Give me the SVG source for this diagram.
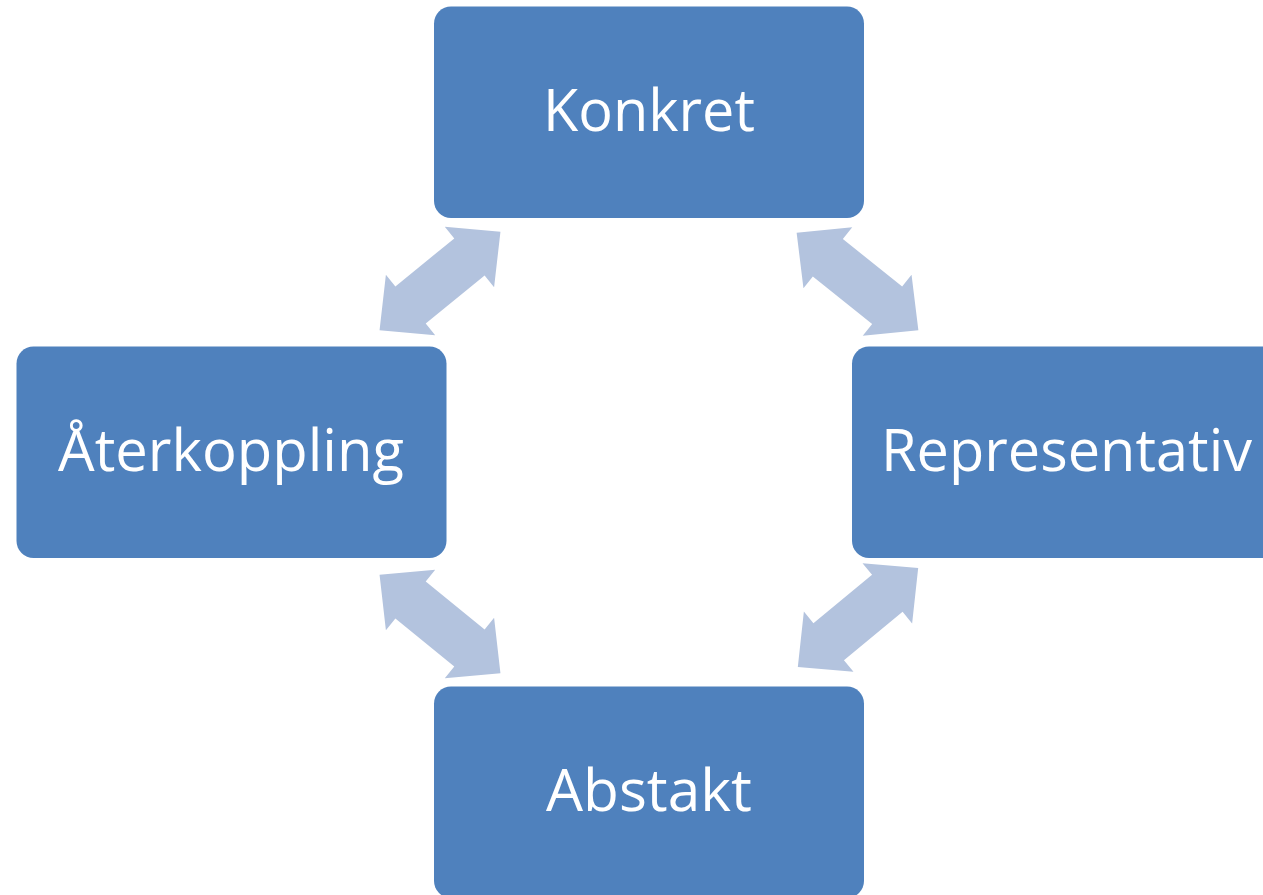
<svg xmlns="http://www.w3.org/2000/svg" width="1263" height="895" viewBox="0 0 1263 895">
  <defs>
    <style>
      .box { fill: #4F81BD; }
      .lbl { fill: #FFFFFF; font-family: "Open Sans", "Noto Sans", "Liberation Sans", sans-serif; font-size: 59px; text-anchor: middle; }
      .arr { fill: #B3C3DE; }
    </style>
    <polygon id="dblarrow" points="78,0 38,-39 38,-24 -38,-24 -38,-39 -78,0 -38,39 -38,24 38,24 38,39"/>
  </defs>
  <rect width="1263" height="895" fill="#FFFFFF"/>
  <g id="connectors">
    <use href="#dblarrow" class="arr" transform="translate(440,281) rotate(-39.2)"/>
    <use href="#dblarrow" class="arr" transform="translate(857.5,281.5) rotate(38.7)"/>
    <use href="#dblarrow" class="arr" transform="translate(440,624) rotate(39.2)"/>
    <use href="#dblarrow" class="arr" transform="translate(858,617.5) rotate(-39.5)"/>
  </g>
  <g id="node-konkret">
    <rect class="box" x="434" y="6.5" width="430" height="211.5" rx="17" ry="17"/>
    <text class="lbl" x="649" y="130.5" textLength="212" lengthAdjust="spacingAndGlyphs">Konkret</text>
  </g>
  <g id="node-representativ">
    <rect class="box" x="852" y="346.5" width="430" height="211.5" rx="17" ry="17"/>
    <text class="lbl" x="1066.5" y="470.5" textLength="371" lengthAdjust="spacingAndGlyphs">Representativ</text>
  </g>
  <g id="node-aterkoppling">
    <rect class="box" x="16.5" y="346.5" width="430" height="211.5" rx="17" ry="17"/>
    <text class="lbl" x="231" y="470.5" textLength="346" lengthAdjust="spacingAndGlyphs">Återkoppling</text>
  </g>
  <g id="node-abstakt">
    <rect class="box" x="434" y="686.5" width="430" height="211.5" rx="17" ry="17"/>
    <text class="lbl" x="649" y="810.5" textLength="206" lengthAdjust="spacingAndGlyphs">Abstakt</text>
  </g>
</svg>
